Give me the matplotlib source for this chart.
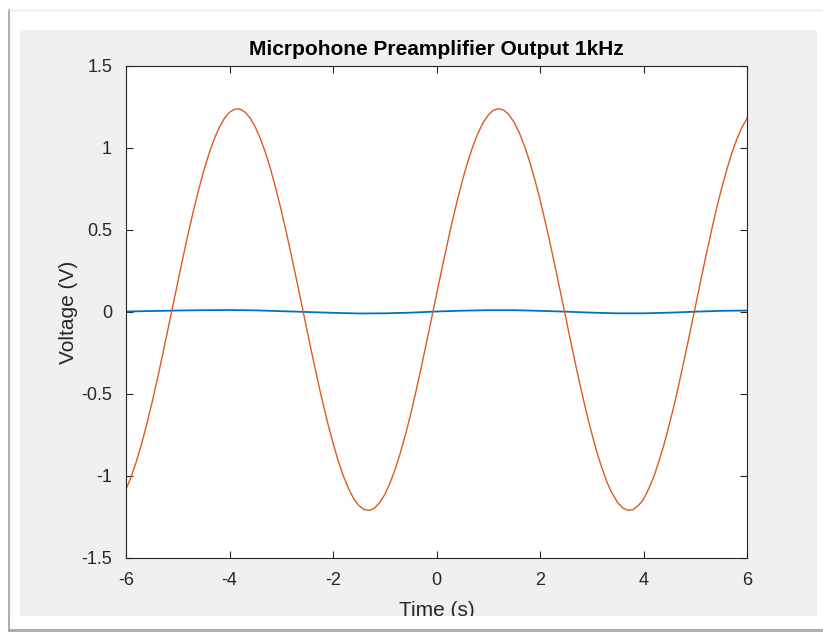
import matplotlib
matplotlib.use("Agg")
import matplotlib.pyplot as plt
from matplotlib.patches import Rectangle
from matplotlib.lines import Line2D

# values (orange trace, every 0.1 s)
t_out = [round(-6.0 + 0.1 * i, 1) for i in range(121)]
v_out = [-1.081, -1.005, -0.912, -0.806, -0.686, -0.556, -0.417, -0.272, -0.122, 0.030,
         0.182, 0.331, 0.476, 0.613, 0.741, 0.858, 0.962, 1.051, 1.124, 1.180,
         1.218, 1.237, 1.238, 1.219, 1.182, 1.127, 1.055, 0.967, 0.864, 0.747,
         0.620, 0.483, 0.338, 0.190, 0.038, -0.114, -0.264, -0.411, -0.550, -0.680,
         -0.799, -0.907, -1.000, -1.077, -1.138, -1.180, -1.204, -1.210, -1.196, -1.163,
         -1.113, -1.044, -0.960, -0.860, -0.748, -0.623, -0.488, -0.345, -0.197, -0.046,
         0.106, 0.257, 0.404, 0.546, 0.678, 0.801, 0.912, 1.008, 1.090, 1.154,
         1.201, 1.230, 1.240, 1.231, 1.203, 1.157, 1.093, 1.013, 0.917, 0.807,
         0.686, 0.552, 0.412, 0.265, 0.114, -0.038, -0.190, -0.338, -0.480, -0.617,
         -0.740, -0.856, -0.954, -1.043, -1.109, -1.162, -1.195, -1.209, -1.205, -1.180,
         -1.143, -1.078, -1.004, -0.908, -0.804, -0.683, -0.558, -0.416, -0.272, -0.122,
         0.030, 0.182, 0.333, 0.477, 0.616, 0.742, 0.858, 0.963, 1.051, 1.125, 1.180]

# blue trace (input), every 0.5 s
t_in = [-6.0, -5.5, -5.0, -4.5, -4.0, -3.5, -3.0, -2.5, -2.0, -1.5, -1.0, -0.5,
        0.0, 0.5, 1.0, 1.5, 2.0, 2.5, 3.0, 3.5, 4.0, 4.5, 5.0, 5.5, 6.0]
v_in = [0.003, 0.006, 0.009, 0.011, 0.012, 0.010, 0.005, 0.000, -0.005, -0.009, -0.008, -0.004,
        0.003, 0.008, 0.011, 0.011, 0.007, 0.002, -0.004, -0.008, -0.008, -0.004, 0.002, 0.007, 0.009]

xticks = [-6, -4, -2, 0, 2, 4, 6]
yticks = [-1.5, -1, -0.5, 0, 0.5, 1, 1.5]
ytick_labels = ["-1.5", "-1", "-0.5", "0", "0.5", "1", "1.5"]

plt.rcParams['font.family'] = ['Liberation Sans', 'DejaVu Sans']
plt.rcParams['axes.unicode_minus'] = False

W, H = 823, 633
fig = plt.figure(figsize=(W / 100, H / 100), dpi=100)
fig.patch.set_facecolor("white")

# grey figure area of the screenshot
fig.patches.append(Rectangle((20 / W, (H - 616) / H), (817 - 20) / W, (616 - 30) / H,
                             transform=fig.transFigure, facecolor="#f0f0f0",
                             edgecolor="none", zorder=-5))
# frame lines round the screenshot
fig.lines.append(Line2D([9 / W, 9 / W], [(H - 630) / H, (H - 10) / H],
                        transform=fig.transFigure, color="#b0b0b0", lw=1.5))
fig.lines.append(Line2D([9 / W, 1.0], [(H - 10) / H, (H - 10) / H],
                        transform=fig.transFigure, color="#e6e6e6", lw=1))
fig.lines.append(Line2D([9 / W, 1.0], [(H - 630) / H, (H - 630) / H],
                        transform=fig.transFigure, color="#a8a8a8", lw=2))

ax = fig.add_axes([126 / W, (H - 558) / H, (747 - 126) / W, (558 - 66) / H])
ax.plot(t_in, v_in, color="#0072BD", lw=1.3)
ax.plot(t_out, v_out, color="#DD5A22", lw=1.0)

ax.set_xlim(-6, 6)
ax.set_ylim(-1.5, 1.5)
ax.set_xticks(xticks)
ax.set_yticks(yticks)
ax.set_yticklabels(ytick_labels)
ax.tick_params(direction="in", length=5, width=0.8, colors="#262626",
               labelsize=13, top=True, right=True)
ax.tick_params(axis="x", pad=10)
ax.tick_params(axis="y", pad=10)
for s in ax.spines.values():
    s.set_color("#262626")
    s.set_linewidth(0.8)

ax.set_title("Micrpohone Preamplifier Output 1kHz", fontsize=15,
             fontweight="bold", color="black", pad=8)
ax.set_xlabel("Time (s)", fontsize=15, color="#262626", labelpad=9)
ax.set_ylabel("Voltage (V)", fontsize=15, color="#262626", labelpad=2)

# white strip below the grey area cuts the x label like in the screenshot
fig.patches.append(Rectangle((10 / W, (H - 629) / H), 1.0, (629 - 616) / H,
                             transform=fig.transFigure, facecolor="white",
                             edgecolor="none", zorder=10))

fig.savefig("out.png", dpi=100)
